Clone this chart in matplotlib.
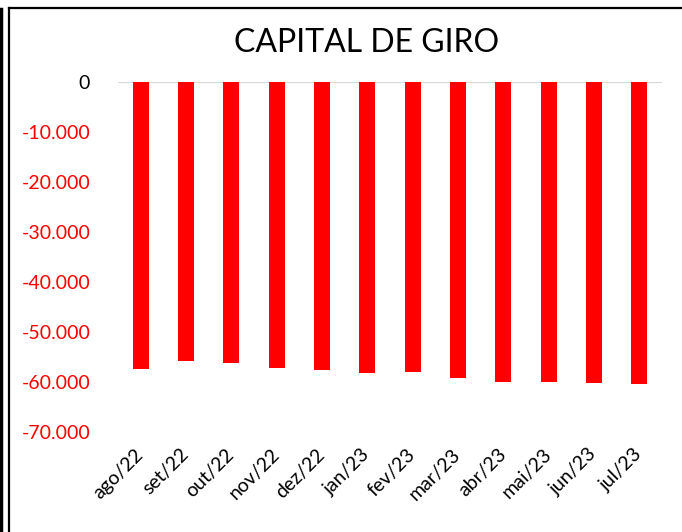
import matplotlib
matplotlib.use("Agg")
import matplotlib.pyplot as plt
from matplotlib.lines import Line2D
from matplotlib.ticker import FuncFormatter

months = ["ago/22", "set/22", "out/22", "nov/22", "dez/22", "jan/23",
          "fev/23", "mar/23", "abr/23", "mai/23", "jun/23", "jul/23"]
capital_giro = [-57460, -55860, -56200, -57260, -57540, -58200,
                -57940, -59200, -60060, -60060, -60260, -60460]
y_ticks = [0, -10000, -20000, -30000, -40000, -50000, -60000, -70000]
title = "CAPITAL DE GIRO"

FONT = ["Lato", "DejaVu Sans"]
plt.rcParams["font.family"] = FONT

W, H = 682, 532
fig = plt.figure(figsize=(W / 100, H / 100), dpi=100)
ax = fig.add_axes([118 / W, 1 - 432 / H, (662 - 118) / W, (432 - 82) / H])

x = list(range(len(months)))
ax.bar(x, capital_giro, width=0.36, color="#ff0000", zorder=3)
ax.axhline(0, color="#d9d9d9", lw=1.6, zorder=2)

ax.set_xlim(-0.5, len(months) - 0.5)
ax.set_ylim(-70000, 0)
ax.set_yticks(y_ticks)
ax.yaxis.set_major_formatter(FuncFormatter(lambda v, p: f"{int(v):,}".replace(",", ".")))
ax.tick_params(axis="y", length=0, pad=20, labelsize=14)
for lbl, v in zip(ax.get_yticklabels(), y_ticks):
    lbl.set_color("black" if v == 0 else "#ff0000")

ax.set_xticks(x)
ax.set_xticklabels(months, rotation=45, ha="right", va="center",
                   rotation_mode="anchor", fontsize=14)
ax.tick_params(axis="x", length=0, pad=14)

for s in ax.spines.values():
    s.set_visible(False)

fig.text(367 / W, 1 - 43 / H, title, ha="center", va="center", fontsize=23)

# outer frame
fig.add_artist(Line2D([9 / W, 9 / W], [0, 1 - 8 / H], transform=fig.transFigure,
                      color="black", lw=1.6))
fig.add_artist(Line2D([9 / W, 1], [1 - 8 / H, 1 - 8 / H], transform=fig.transFigure,
                      color="black", lw=1.6))
fig.add_artist(Line2D([1 / W, 1 / W], [0, 1 - 9 / H], transform=fig.transFigure,
                      color="black", lw=2.5))

fig.savefig("out.png", dpi=100)
